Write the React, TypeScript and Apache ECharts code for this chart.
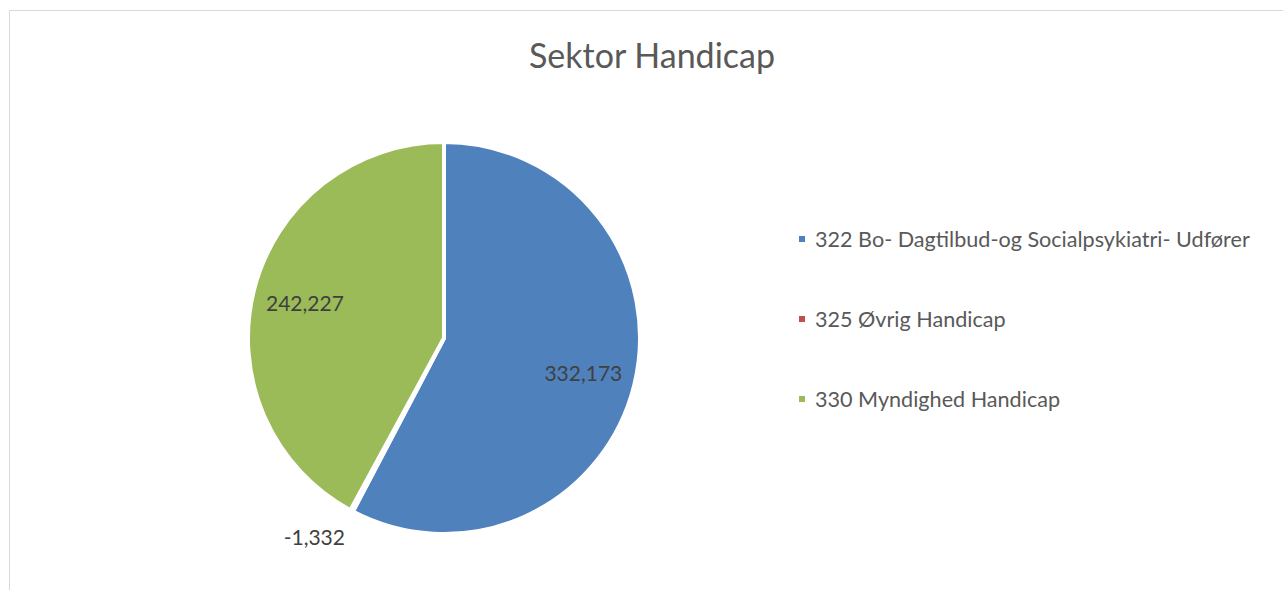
import React, { useEffect, useRef } from "react";
import * as echarts from "echarts";

const title = "Sektor Handicap";
const categories = [
  "322 Bo- Dagtilbud-og Socialpsykiatri- Udfører",
  "325 Øvrig Handicap",
  "330 Myndighed Handicap",
];
const values = [332173, -1332, 242227];
const colors = ["#4F81BD", "#C0504D", "#9BBB59"];

const fmt = (v: number) => v.toLocaleString("en-US");

export default function App() {
  const ref = useRef<HTMLDivElement>(null);
  useEffect(() => {
    if (!ref.current) return;
    const chart = echarts.init(ref.current, null, { renderer: "svg" });
    const font = "Lato, 'Open Sans', sans-serif";
    const sliceData = categories.map((name, i) => ({
      name,
      value: Math.abs(values[i]),
      itemStyle: { color: values[i] < 0 ? "#ffffff" : colors[i] },
    }));
    const labelData = categories.map((name, i) => ({
      name,
      value: Math.abs(values[i]),
      label: values[i] < 0 ? { position: "outside" } : { position: "inside" },
    }));
    chart.setOption({
      animation: false,
      backgroundColor: "#ffffff",
      title: {
        text: title,
        left: 647,
        top: 32,
        textAlign: "center",
        textStyle: { fontFamily: font, fontSize: 34, fontWeight: "normal", color: "#595959" },
      },
      legend: {
        orient: "vertical",
        left: 797,
        top: 227,
        padding: 0,
        icon: "rect",
        itemWidth: 8,
        itemHeight: 8,
        itemGap: 56,
        selectedMode: false,
        data: categories.map((name, i) => ({ name, itemStyle: { color: colors[i] } })),
        textStyle: {
          fontFamily: font,
          fontSize: 21.6,
          lineHeight: 24,
          color: "#595959",
          padding: [0, 0, 0, 4],
        },
      },
      graphic: [
        {
          type: "rect",
          shape: { x: 9.5, y: 10.5, width: 1400, height: 700 },
          style: { fill: "none", stroke: "#d9d9d9", lineWidth: 1 },
          silent: true,
        },
      ],
      series: [
        {
          type: "pie",
          center: [444, 338],
          radius: 196,
          startAngle: 90,
          clockwise: true,
          silent: true,
          label: { show: false },
          labelLine: { show: false },
          itemStyle: { borderColor: "#ffffff", borderWidth: 4 },
          emphasis: { disabled: true },
          data: sliceData,
        },
        {
          type: "pie",
          center: [444, 338],
          radius: [86, 195],
          startAngle: 90,
          clockwise: true,
          silent: true,
          avoidLabelOverlap: false,
          itemStyle: { color: "rgba(0,0,0,0)" },
          emphasis: { disabled: true },
          labelLine: { show: false, length: 30, length2: 0 },
          label: {
            show: true,
            fontFamily: font,
            fontSize: 21,
            color: "#404040",
            distanceToLabelLine: -7,
            formatter: (p: any) => fmt(values[p.dataIndex]),
          },
          data: labelData,
        },
      ],
    });
    return () => chart.dispose();
  }, []);
  return (
    <div
      ref={ref}
      style={{ position: "fixed", left: 0, top: 0, width: 1283, height: 590 }}
    />
  );
}
